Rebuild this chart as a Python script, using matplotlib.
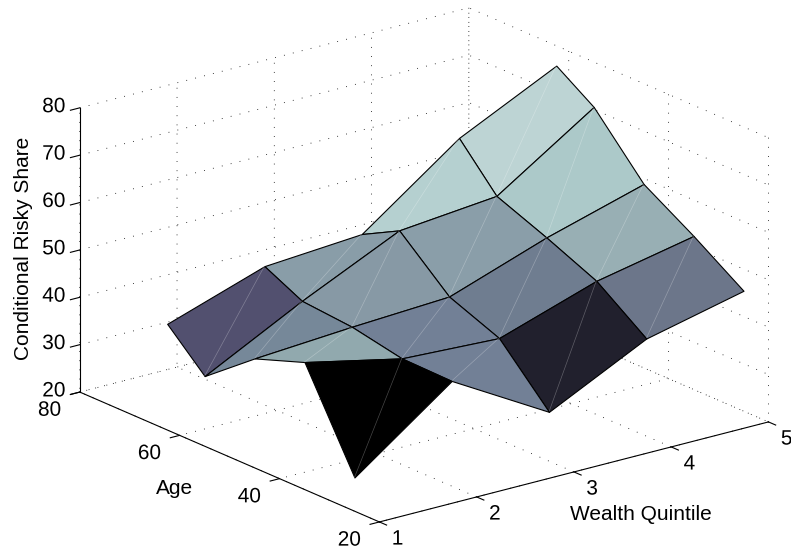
import matplotlib
matplotlib.use("Agg")
import numpy as np
import matplotlib.pyplot as plt
import matplotlib.patheffects as pe
from mpl_toolkits.mplot3d.art3d import Poly3DCollection

wealth = [1, 2, 3, 4, 5]
ages = [25, 35, 45, 55, 62.5]
# rows: age, columns: wealth quintile
share_age25 = [27.1, 42.2, 30.4, 40.6, 45.4]
share_age35 = [46.9, 42.4, 41.4, 48.2, 52.4]
share_age45 = [43.1, 44.5, 45.6, 52.8, 58.8]
share_age55 = [34.8, 45.4, 55.0, 57.0, 70.5]
share_age62 = [42.4, 49.3, 50.8, 65.8, 75.8]
# cell colours, rows: age band, columns: wealth band
colors_age25 = ["#000000", "#728096", "#21202D", "#6C768A"]
colors_age35 = ["#91A9AE", "#728096", "#6F7D90", "#98AFB4"]
colors_age45 = ["#768899", "#8799A5", "#8A9EA9", "#ACC9C9"]
colors_age55 = ["#52506F", "#899DA8", "#B5D0D0", "#BDD4D4"]

x_ticks = [1, 2, 3, 4, 5]
y_ticks = [20, 40, 60, 80]
z_ticks = [20, 30, 40, 50, 60, 70, 80]

plt.rcParams["font.family"] = ["Liberation Sans", "DejaVu Sans"]
plt.rcParams["grid.linestyle"] = (0, (1, 10))
plt.rcParams["grid.linewidth"] = 0.6
plt.rcParams["grid.color"] = "#000000"

W, H = 791, 551
fig = plt.figure(figsize=(W / 100, H / 100), dpi=100)
S = 490
cx, cy = 417.5, 279.5
ax = fig.add_axes([(cx - S / 2) / W, (cy - S / 2) / H, S / W, S / H], projection="3d")
ax.set_proj_type("ortho")
ax.view_init(elev=19.5, azim=-127.6)
ax.set_box_aspect((1, 1, 0.614), zoom=1.5)
ax.computed_zorder = False

Z = np.array([share_age25, share_age35, share_age45, share_age55, share_age62])
C = [colors_age25, colors_age35, colors_age45, colors_age55]
z_order = 5
for i in range(len(ages) - 2, -1, -1):
    for j in range(len(wealth) - 2, -1, -1):
        quad = [
            (wealth[j], ages[i], Z[i, j]),
            (wealth[j + 1], ages[i], Z[i, j + 1]),
            (wealth[j + 1], ages[i + 1], Z[i + 1, j + 1]),
            (wealth[j], ages[i + 1], Z[i + 1, j]),
        ]
        poly = Poly3DCollection([quad], facecolors=C[i][j], edgecolors="black",
                                linewidths=0.8, zorder=z_order)
        ax.add_collection3d(poly)
        poly.set_clip_on(False)
        diag, = ax.plot([wealth[j], wealth[j + 1]], [ages[i], ages[i + 1]],
                        [Z[i, j], Z[i + 1, j + 1]], color="white", alpha=0.28,
                        linewidth=0.5, zorder=z_order + 0.5)
        diag.set_clip_on(False)
        z_order += 1

ax.set_xlim(1, 5, view_margin=0)
ax.set_ylim(20, 80, view_margin=0)
ax.set_zlim(20, 80, view_margin=0)
ax.set_xticks(x_ticks)
ax.set_yticks(y_ticks)
ax.set_zticks(z_ticks)
for axis in (ax.xaxis, ax.yaxis, ax.zaxis):
    axis.set_pane_color((1, 1, 1, 0))
    axis.pane.set_edgecolor((1, 1, 1, 0))
    axis.line.set_color("black")
    axis.line.set_linewidth(0.8)
    axis._axinfo["tick"]["inward_factor"] = 0.3
    axis._axinfo["tick"]["outward_factor"] = 0.0
    axis._axinfo["tick"]["linewidth"] = {True: 0.8, False: 0.5}
ax.tick_params(axis="x", labelsize=15, pad=-0.4)
ax.tick_params(axis="y", labelsize=15, pad=0.7)
ax.tick_params(axis="z", labelsize=15, pad=-1.1)


def nudge(dx_px, dy_px):
    return [pe.Normal(offset=(dx_px * 0.72, dy_px * 0.72))]


for lbl in ax.get_xticklabels():
    lbl.set_ha("left")
    lbl.set_va("center")
    lbl.set_path_effects(nudge(0, -2))
for lbl in ax.get_yticklabels():
    lbl.set_ha("right")
    lbl.set_va("center")
    lbl.set_path_effects(nudge(3.5, -1))
for lbl in ax.get_zticklabels():
    lbl.set_ha("center")
    lbl.set_va("center")
    lbl.set_path_effects(nudge(0, 3))

ax.text2D(641 / W, 1 - 514 / H, "Wealth Quintile", transform=fig.transFigure,
          fontsize=15, ha="center", va="center")
ax.text2D(175 / W, 1 - 488 / H, "Age", transform=fig.transFigure,
          fontsize=15, ha="center", va="center")
ax.text2D(24 / W, 1 - 248 / H, "Conditional Risky Share", transform=fig.transFigure,
          fontsize=15, ha="center", va="center", rotation=90)

fig.savefig("out.png", dpi=100)
